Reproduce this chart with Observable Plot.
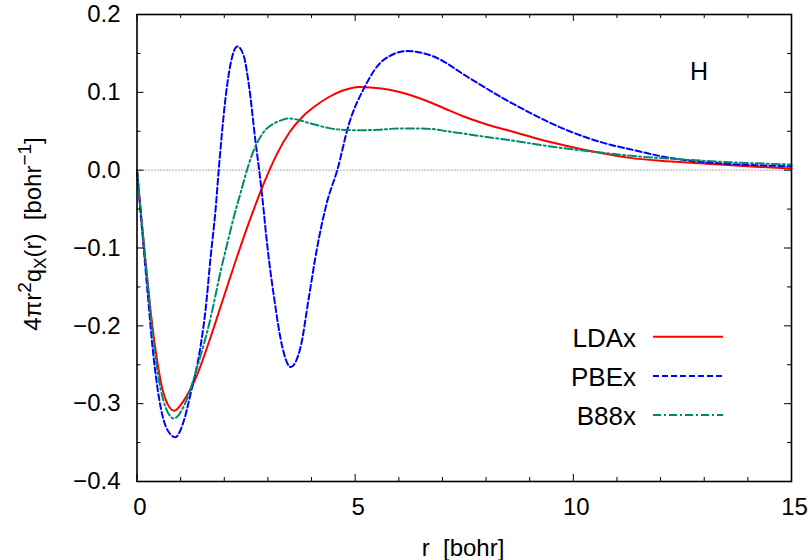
<!DOCTYPE html>
<html><head><meta charset="utf-8">
<script src="https://cdn.jsdelivr.net/npm/d3@7"></script>
<script src="https://cdn.jsdelivr.net/npm/@observablehq/plot@0.6"></script>
<style>
body{margin:0;background:#fff;}
#chart{position:relative;width:810px;height:560px;}
</style>
</head><body><div id="chart"></div>
<script>
// ---- data ----
const seriesNames = ["LDAx", "PBEx", "B88x"];
const seriesColors = ["#ff0000", "#0000ff", "#008b70"];
const seriesDash = [null, "6,3", "8,3,2,3"];

const ldaR = [0, 0.08, 0.2, 0.31, 0.46, 0.61, 0.85, 1.07, 1.34, 1.69, 2.0, 2.3, 2.6, 2.9, 3.2, 3.5, 3.8, 4.1, 4.4, 4.7, 5.1, 5.6, 5.97, 6.34, 6.73, 7.1, 7.49, 8.0, 8.64, 9.2, 9.78, 10.63, 11.3, 12.0, 12.9, 14.0, 15];
const ldaV = [0, -0.05, -0.12, -0.18, -0.244, -0.287, -0.309, -0.296, -0.268, -0.214, -0.161, -0.11, -0.062, -0.018, 0.02, 0.049, 0.069, 0.083, 0.094, 0.102, 0.107, 0.105, 0.101, 0.095, 0.087, 0.078, 0.069, 0.059, 0.049, 0.04, 0.032, 0.022, 0.0158, 0.012, 0.0088, 0.005, 0.002];

const pbeR = [0, 0.2, 0.4, 0.54, 0.69, 0.88, 1.05, 1.23, 1.46, 1.57, 1.69, 1.8, 1.88, 2.07, 2.3, 2.45, 2.56, 2.72, 2.8, 2.87, 2.99, 3.14, 3.33, 3.52, 3.75, 3.94, 4.13, 4.36, 4.59, 4.85, 5.2, 5.66, 6.2, 6.8, 7.57, 8.34, 9.1, 9.87, 10.63, 11.39, 12.16, 12.92, 13.69, 15];
const pbeV = [0, -0.13, -0.25, -0.304, -0.333, -0.343, -0.326, -0.287, -0.225, -0.18, -0.11, -0.051, 0.005, 0.111, 0.159, 0.146, 0.111, 0.035, 0, -0.034, -0.099, -0.163, -0.227, -0.253, -0.227, -0.163, -0.099, -0.04, 0, 0.058, 0.105, 0.142, 0.153, 0.146, 0.12, 0.094, 0.071, 0.051, 0.036, 0.0257, 0.0163, 0.0107, 0.0077, 0.005];

const b88R = [0, 0.2, 0.4, 0.6, 0.845, 1.1, 1.38, 1.69, 1.92, 2.07, 2.22, 2.37, 2.52, 2.65, 2.8, 2.95, 3.14, 3.3, 3.48, 3.98, 4.4, 4.82, 5.2, 5.58, 5.97, 6.34, 6.73, 7.11, 7.88, 8.64, 9.41, 10.17, 10.63, 11.32, 12.16, 13.69, 15];
const b88V = [0, -0.12, -0.23, -0.295, -0.319, -0.3, -0.253, -0.189, -0.129, -0.094, -0.06, -0.03, 0, 0.022, 0.04, 0.052, 0.06, 0.064, 0.0665, 0.06, 0.054, 0.0515, 0.0514, 0.052, 0.0536, 0.0536, 0.053, 0.05, 0.0437, 0.0377, 0.031, 0.0255, 0.0227, 0.0184, 0.015, 0.0099, 0.0073];

const xMajorTicks = [0, 5, 10, 15];
const xMinorTicks = [1, 2, 3, 4, 6, 7, 8, 9, 11, 12, 13, 14];
const yMajorTicks = [-0.4, -0.3, -0.2, -0.1, 0, 0.1, 0.2];
const yMinorTicks = [-0.35, -0.25, -0.15, -0.05, 0.05, 0.15];
const panelLabel = "H";
const xLabel = "r  [bohr]";

// ---- build table ----
const rows = [];
[[ldaR, ldaV], [pbeR, pbeV], [b88R, b88V]].forEach(([rs, vs], i) => {
  rs.forEach((r, j) => rows.push({series: seriesNames[i], r, v: vs[j]}));
});

const W = 810, H = 560;
const mL = 136.5, mR = 19, mT = 14, mB = 79;
const plotW = W - mL - mR, plotH = H - mT - mB;
const majorLen = 7, minorLen = 4;
const font = "'Liberation Sans', Arial, Helvetica, sans-serif";

const lineMarks = seriesNames.map((name, i) =>
  Plot.line(rows.filter(d => d.series === name), {
    x: "r", y: "v", stroke: seriesColors[i], strokeWidth: 2,
    strokeDasharray: seriesDash[i], curve: "monotone-x"
  })
);

const chart = Plot.plot({
  width: W, height: H,
  marginLeft: mL, marginRight: mR, marginTop: mT, marginBottom: mB,
  style: {fontFamily: font, fontSize: "24px", color: "#000", background: "#fff"},
  x: {domain: [0, 15]},
  y: {domain: [-0.4, 0.2]},
  marks: [
    Plot.ruleY([0], {stroke: "#555", strokeWidth: 1, strokeDasharray: "1,2"}),
    ...lineMarks,
    Plot.tickY(yMajorTicks, {y: d => d, insetRight: plotW - majorLen, stroke: "#000", strokeWidth: 1}),
    Plot.tickY(yMajorTicks, {y: d => d, insetLeft: plotW - majorLen, stroke: "#000", strokeWidth: 1}),
    Plot.tickY(yMinorTicks, {y: d => d, insetRight: plotW - minorLen, stroke: "#000", strokeWidth: 1}),
    Plot.tickY(yMinorTicks, {y: d => d, insetLeft: plotW - minorLen, stroke: "#000", strokeWidth: 1}),
    Plot.tickX(xMajorTicks, {x: d => d, insetTop: plotH - majorLen, stroke: "#000", strokeWidth: 1}),
    Plot.tickX(xMajorTicks, {x: d => d, insetBottom: plotH - majorLen, stroke: "#000", strokeWidth: 1}),
    Plot.tickX(xMinorTicks, {x: d => d, insetTop: plotH - minorLen, stroke: "#000", strokeWidth: 1}),
    Plot.tickX(xMinorTicks, {x: d => d, insetBottom: plotH - minorLen, stroke: "#000", strokeWidth: 1}),
    Plot.axisY(yMajorTicks, {anchor: "left", tickSize: 0, tickPadding: 16.5, tickFormat: d3.format(".1f"), label: null}),
    Plot.axisX(xMajorTicks, {anchor: "bottom", tickSize: 0, tickPadding: 16, dx: 3, tickFormat: d => String(d), label: null}),
    Plot.frame({stroke: "#000", strokeWidth: 1.6})
  ]
});

document.getElementById("chart").appendChild(chart);

// ---- annotations: axis titles, panel label, legend ----
const svg = d3.select(chart);
const ann = svg.append("g").attr("font-family", font).attr("fill", "#000");

const yt = ann.append("text")
  .attr("transform", "translate(41,234) rotate(-90)")
  .attr("text-anchor", "middle")
  .attr("font-size", 24);
yt.append("tspan").text("4πr");
yt.append("tspan").attr("font-size", 19).attr("dy", -10).text("2");
yt.append("tspan").attr("dy", 10).text("q");
yt.append("tspan").attr("font-size", 17).attr("dy", 5).text("X");
yt.append("tspan").attr("dy", -5).text("(r)\u00a0\u00a0[bohr");
yt.append("tspan").attr("font-size", 19).attr("dy", -10).text("−1");
yt.append("tspan").attr("dy", 10).text("]");

ann.append("text").attr("x", 463).attr("y", 556).attr("text-anchor", "middle")
  .attr("font-size", 24).text(xLabel.replace(/ /g, "\u00a0"));

ann.append("text").attr("x", 699).attr("y", 79.5).attr("font-size", 25).text(panelLabel);

const legY = [336.7, 376, 415];
seriesNames.forEach((name, i) => {
  ann.append("text").attr("x", 636).attr("y", legY[i] + 10).attr("text-anchor", "end")
    .attr("font-size", 26).text(name);
  ann.append("line").attr("x1", 653).attr("x2", 723).attr("y1", legY[i]).attr("y2", legY[i])
    .attr("stroke", seriesColors[i]).attr("stroke-width", 2)
    .attr("stroke-dasharray", seriesDash[i]);
});
</script>
</body></html>
